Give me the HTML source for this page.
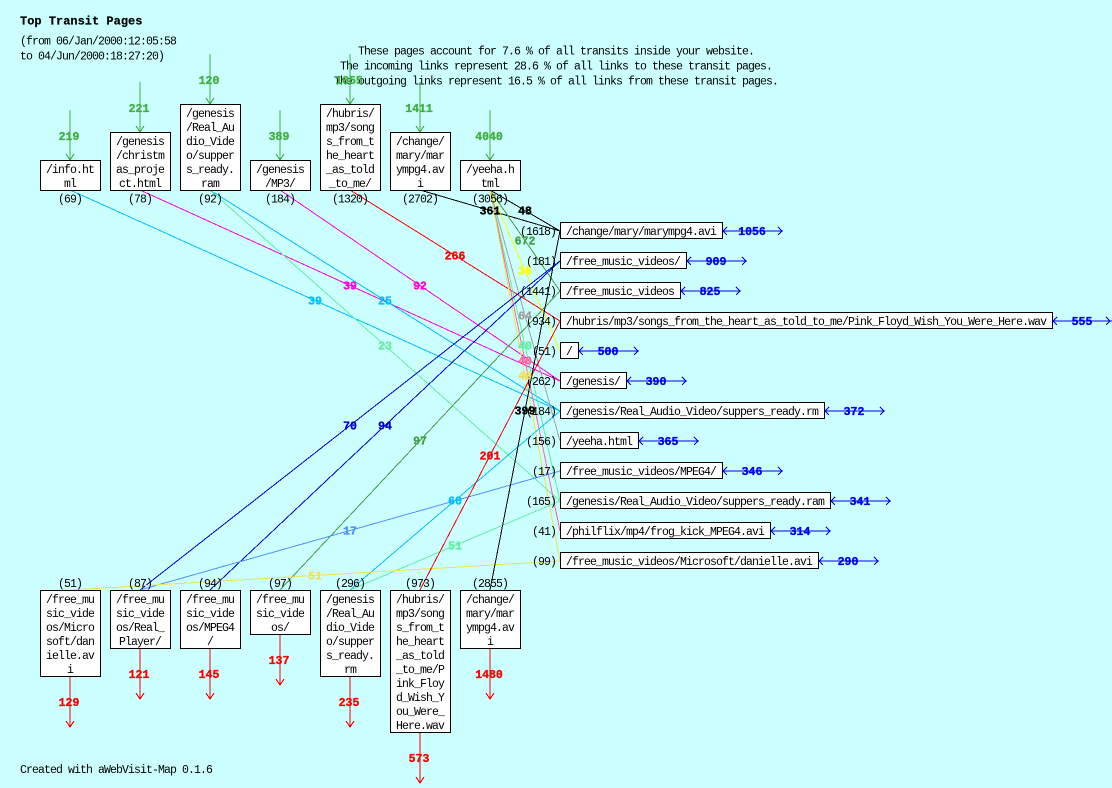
<!DOCTYPE html>
<html><head><meta charset="utf-8"><style>
html,body{margin:0;padding:0;background:#ccffff;}
svg{display:block;}
.t{font-family:"Liberation Mono",monospace;font-size:11.5px;letter-spacing:-0.9px;fill:#000;}
.b{font-family:"Liberation Mono",monospace;font-size:11.5px;font-weight:bold;stroke-width:0.35px;}
.ttl{font-family:"Liberation Mono",monospace;font-size:12px;font-weight:bold;fill:#000;stroke:#000;stroke-width:0.2px;}
</style></head><body>
<svg width="1112" height="788" viewBox="0 0 1112 788" xmlns="http://www.w3.org/2000/svg">
<rect width="1112" height="788" fill="#ccffff"/>
<text class="ttl" x="20" y="24.5">Top Transit Pages</text>
<text class="t" x="20" y="44.5">(from 06/Jan/2000:12:05:58</text>
<text class="t" x="20" y="59.5">to 04/Jun/2000:18:27:20)</text>
<text class="t" x="556" y="54.5" text-anchor="middle">These pages account for 7.6 % of all transits inside your website.</text>
<text class="t" x="556" y="69.5" text-anchor="middle">The incoming links represent 28.6 % of all links to these transit pages.</text>
<text class="t" x="556" y="84.5" text-anchor="middle">The outgoing links represent 16.5 % of all links from these transit pages.</text>
<text class="t" x="20" y="773">Created with aWebVisit-Map 0.1.6</text>

<g stroke-width="1" shape-rendering="crispEdges" fill="none">
<line x1="70" y1="190" x2="560" y2="411" stroke="#00c0ff"/>
<line x1="140" y1="190" x2="560" y2="381" stroke="#ff00e0"/>
<line x1="210" y1="190" x2="560" y2="411" stroke="#00c0ff"/>
<line x1="210" y1="190" x2="560" y2="501" stroke="#60f0a0"/>
<line x1="280" y1="190" x2="560" y2="381" stroke="#ff00e0"/>
<line x1="350" y1="190" x2="560" y2="321" stroke="#ff0000"/>
<line x1="420" y1="190" x2="560" y2="231" stroke="#000"/>
<line x1="490" y1="190" x2="560" y2="231" stroke="#000"/>
<line x1="490" y1="190" x2="560" y2="291" stroke="#40a040"/>
<line x1="490" y1="190" x2="560" y2="351" stroke="#ffff00"/>
<line x1="490" y1="190" x2="560" y2="441" stroke="#a0a0a0"/>
<line x1="490" y1="190" x2="560" y2="501" stroke="#60f0a0"/>
<line x1="490" y1="190" x2="560" y2="531" stroke="#ff60a0"/>
<line x1="490" y1="190" x2="560" y2="561" stroke="#f0e050"/>
<line x1="560" y1="261" x2="140" y2="590" stroke="#0000d0"/>
<line x1="560" y1="261" x2="210" y2="590" stroke="#0000d0"/>
<line x1="560" y1="291" x2="280" y2="590" stroke="#40a040"/>
<line x1="560" y1="471" x2="140" y2="590" stroke="#5090ff"/>
<line x1="560" y1="411" x2="350" y2="590" stroke="#00c0ff"/>
<line x1="560" y1="501" x2="350" y2="590" stroke="#60f0a0"/>
<line x1="560" y1="561" x2="70" y2="590" stroke="#f0e050"/>
<line x1="560" y1="321" x2="420" y2="590" stroke="#ff0000"/>
<line x1="560" y1="231" x2="490" y2="590" stroke="#000"/>
</g>

<!-- top green arrows -->
<g stroke="#40b040" fill="none" shape-rendering="crispEdges">
<path d="M70 110V160M66 154L70 160L74 154"/>
<path d="M140 82V132M136 126L140 132L144 126"/>
<path d="M210 54V104M206 98L210 104L214 98"/>
<path d="M280 110V160M276 154L280 160L284 154"/>
<path d="M350 54V104M346 98L350 104L354 98"/>
<path d="M420 82V132M416 126L420 132L424 126"/>
<path d="M490 110V160M486 154L490 160L494 154"/>
</g>
<g class="b" fill="#40b040" stroke="#40b040" text-anchor="middle">
<text x="69" y="140">219</text>
<text x="139" y="112">221</text>
<text x="209" y="84">120</text>
<text x="279" y="140">389</text>
<text x="349" y="84">1055</text>
<text x="419" y="112">1411</text>
<text x="489" y="140">4040</text>
</g>

<!-- top boxes -->
<g fill="#fff" stroke="#000" shape-rendering="crispEdges">
<rect x="40.5" y="160.5" width="60" height="30"/>
<rect x="110.5" y="132.5" width="60" height="58"/>
<rect x="180.5" y="104.5" width="60" height="86"/>
<rect x="250.5" y="160.5" width="60" height="30"/>
<rect x="320.5" y="104.5" width="60" height="86"/>
<rect x="390.5" y="132.5" width="60" height="58"/>
<rect x="460.5" y="160.5" width="60" height="30"/>
</g>
<g class="t" text-anchor="middle">
<text x="70" y="173">/info.ht</text><text x="70" y="187">ml</text>
<text x="140" y="145">/genesis</text><text x="140" y="159">/christm</text><text x="140" y="173">as_proje</text><text x="140" y="187">ct.html</text>
<text x="210" y="117">/genesis</text><text x="210" y="131">/Real_Au</text><text x="210" y="145">dio_Vide</text><text x="210" y="159">o/supper</text><text x="210" y="173">s_ready.</text><text x="210" y="187">ram</text>
<text x="280" y="173">/genesis</text><text x="280" y="187">/MP3/</text>
<text x="350" y="117">/hubris/</text><text x="350" y="131">mp3/song</text><text x="350" y="145">s_from_t</text><text x="350" y="159">he_heart</text><text x="350" y="173">_as_told</text><text x="350" y="187">_to_me/</text>
<text x="420" y="145">/change/</text><text x="420" y="159">mary/mar</text><text x="420" y="173">ympg4.av</text><text x="420" y="187">i</text>
<text x="490" y="173">/yeeha.h</text><text x="490" y="187">tml</text>
<text x="70" y="202.5">(69)</text>
<text x="140" y="202.5">(78)</text>
<text x="210" y="202.5">(92)</text>
<text x="280" y="202.5">(184)</text>
<text x="350" y="202.5">(1320)</text>
<text x="420" y="202.5">(2702)</text>
<text x="490" y="202.5">(3056)</text>
</g>

<!-- right boxes -->
<g fill="#fff" stroke="#000" shape-rendering="crispEdges">
<rect x="560.5" y="222.5" width="162" height="16"/>
<rect x="560.5" y="252.5" width="126" height="16"/>
<rect x="560.5" y="282.5" width="120" height="16"/>
<rect x="560.5" y="312.5" width="492" height="16"/>
<rect x="560.5" y="342.5" width="18" height="16"/>
<rect x="560.5" y="372.5" width="66" height="16"/>
<rect x="560.5" y="402.5" width="264" height="16"/>
<rect x="560.5" y="432.5" width="78" height="16"/>
<rect x="560.5" y="462.5" width="162" height="16"/>
<rect x="560.5" y="492.5" width="270" height="16"/>
<rect x="560.5" y="522.5" width="210" height="16"/>
<rect x="560.5" y="552.5" width="258" height="16"/>
</g>
<g class="t">
<text x="566" y="235">/change/mary/marympg4.avi</text>
<text x="566" y="265">/free_music_videos/</text>
<text x="566" y="295">/free_music_videos</text>
<text x="566" y="325">/hubris/mp3/songs_from_the_heart_as_told_to_me/Pink_Floyd_Wish_You_Were_Here.wav</text>
<text x="566" y="355">/</text>
<text x="566" y="385">/genesis/</text>
<text x="566" y="415">/genesis/Real_Audio_Video/suppers_ready.rm</text>
<text x="566" y="445">/yeeha.html</text>
<text x="566" y="475">/free_music_videos/MPEG4/</text>
<text x="566" y="505">/genesis/Real_Audio_Video/suppers_ready.ram</text>
<text x="566" y="535">/philflix/mp4/frog_kick_MPEG4.avi</text>
<text x="566" y="565">/free_music_videos/Microsoft/danielle.avi</text>
</g>
<g class="t" text-anchor="end">
<text x="556" y="235">(1618)</text>
<text x="556" y="265">(181)</text>
<text x="556" y="295">(1441)</text>
<text x="556" y="325">(934)</text>
<text x="556" y="355">(51)</text>
<text x="556" y="385">(262)</text>
<text x="556" y="415">(184)</text>
<text x="556" y="445">(156)</text>
<text x="556" y="475">(17)</text>
<text x="556" y="505">(165)</text>
<text x="556" y="535">(41)</text>
<text x="556" y="565">(99)</text>
</g>

<!-- right blue arrows -->
<g stroke="#0000f0" fill="none" shape-rendering="crispEdges">
<path d="M723 231H783M727 227L723 231L727 235M778 227L782 231L778 235"/>
<path d="M687 261H747M691 257L687 261L691 265M742 257L746 261L742 265"/>
<path d="M681 291H741M685 287L681 291L685 295M736 287L740 291L736 295"/>
<path d="M1053 321H1112M1057 317L1053 321L1057 325M1106 317L1110 321L1106 325"/>
<path d="M579 351H639M583 347L579 351L583 355M634 347L638 351L634 355"/>
<path d="M627 381H687M631 377L627 381L631 385M682 377L686 381L682 385"/>
<path d="M825 411H885M829 407L825 411L829 415M880 407L884 411L880 415"/>
<path d="M639 441H699M643 437L639 441L643 445M694 437L698 441L694 445"/>
<path d="M723 471H783M727 467L723 471L727 475M778 467L782 471L778 475"/>
<path d="M831 501H891M835 497L831 501L835 505M886 497L890 501L886 505"/>
<path d="M771 531H831M775 527L771 531L775 535M826 527L830 531L826 535"/>
<path d="M819 561H879M823 557L819 561L823 565M874 557L878 561L874 565"/>
</g>
<g class="b" fill="#0000f0" stroke="#0000f0" text-anchor="middle">
<text x="752" y="235">1056</text>
<text x="716" y="265">909</text>
<text x="710" y="295">825</text>
<text x="1082" y="325">555</text>
<text x="608" y="355">500</text>
<text x="656" y="385">390</text>
<text x="854" y="415">372</text>
<text x="668" y="445">365</text>
<text x="752" y="475">346</text>
<text x="860" y="505">341</text>
<text x="800" y="535">314</text>
<text x="848" y="565">290</text>
</g>

<!-- bottom boxes -->
<g fill="#fff" stroke="#000" shape-rendering="crispEdges">
<rect x="40.5" y="590.5" width="60" height="86"/>
<rect x="110.5" y="590.5" width="60" height="58"/>
<rect x="180.5" y="590.5" width="60" height="58"/>
<rect x="250.5" y="590.5" width="60" height="44"/>
<rect x="320.5" y="590.5" width="60" height="86"/>
<rect x="390.5" y="590.5" width="60" height="142"/>
<rect x="460.5" y="590.5" width="60" height="58"/>
</g>
<g class="t" text-anchor="middle">
<text x="70" y="587">(51)</text>
<text x="140" y="587">(87)</text>
<text x="210" y="587">(94)</text>
<text x="280" y="587">(97)</text>
<text x="350" y="587">(296)</text>
<text x="420" y="587">(973)</text>
<text x="490" y="587">(2855)</text>
<text x="70" y="603">/free_mu</text><text x="70" y="617">sic_vide</text><text x="70" y="631">os/Micro</text><text x="70" y="645">soft/dan</text><text x="70" y="659">ielle.av</text><text x="70" y="673">i</text>
<text x="140" y="603">/free_mu</text><text x="140" y="617">sic_vide</text><text x="140" y="631">os/Real_</text><text x="140" y="645">Player/</text>
<text x="210" y="603">/free_mu</text><text x="210" y="617">sic_vide</text><text x="210" y="631">os/MPEG4</text><text x="210" y="645">/</text>
<text x="280" y="603">/free_mu</text><text x="280" y="617">sic_vide</text><text x="280" y="631">os/</text>
<text x="350" y="603">/genesis</text><text x="350" y="617">/Real_Au</text><text x="350" y="631">dio_Vide</text><text x="350" y="645">o/supper</text><text x="350" y="659">s_ready.</text><text x="350" y="673">rm</text>
<text x="420" y="603">/hubris/</text><text x="420" y="617">mp3/song</text><text x="420" y="631">s_from_t</text><text x="420" y="645">he_heart</text><text x="420" y="659">_as_told</text><text x="420" y="673">_to_me/P</text><text x="420" y="687">ink_Floy</text><text x="420" y="701">d_Wish_Y</text><text x="420" y="715">ou_Were_</text><text x="420" y="729">Here.wav</text>
<text x="490" y="603">/change/</text><text x="490" y="617">mary/mar</text><text x="490" y="631">ympg4.av</text><text x="490" y="645">i</text>
</g>

<!-- bottom red arrows -->
<g stroke="#ff0000" fill="none" shape-rendering="crispEdges">
<path d="M70 677V727M66 721L70 727L74 721"/>
<path d="M140 649V699M136 693L140 699L144 693"/>
<path d="M210 649V699M206 693L210 699L214 693"/>
<path d="M280 635V685M276 679L280 685L284 679"/>
<path d="M350 677V727M346 721L350 727L354 721"/>
<path d="M420 733V783M416 777L420 783L424 777"/>
<path d="M490 649V699M486 693L490 699L494 693"/>
</g>
<g class="b" fill="#ff0000" stroke="#ff0000" text-anchor="middle">
<text x="69" y="706">129</text>
<text x="139" y="678">121</text>
<text x="209" y="678">145</text>
<text x="279" y="664">137</text>
<text x="349" y="706">235</text>
<text x="419" y="762">573</text>
<text x="489" y="678">1480</text>
</g>

<!-- connector labels -->
<g class="b" text-anchor="middle">
<text x="315" y="304.5" fill="#00c0ff" stroke="#00c0ff">39</text>
<text x="350" y="289.5" fill="#ff00e0" stroke="#ff00e0">39</text>
<text x="385" y="304.5" fill="#00c0ff" stroke="#00c0ff">25</text>
<text x="385" y="349.5" fill="#60f0a0" stroke="#60f0a0">23</text>
<text x="420" y="289.5" fill="#ff00e0" stroke="#ff00e0">92</text>
<text x="455" y="259.5" fill="#ff0000" stroke="#ff0000">266</text>
<text x="490" y="214.5" fill="#000" stroke="#000">361</text>
<text x="525" y="214.5" fill="#000" stroke="#000">48</text>
<text x="525" y="244.5" fill="#40a040" stroke="#40a040">672</text>
<text x="525" y="274.5" fill="#ffff00" stroke="#ffff00">36</text>
<text x="525" y="319.5" fill="#a0a0a0" stroke="#a0a0a0">64</text>
<text x="525" y="349.5" fill="#60f0a0" stroke="#60f0a0">40</text>
<text x="525" y="364.5" fill="#ff60a0" stroke="#ff60a0">40</text>
<text x="525" y="379.5" fill="#f0e060" stroke="#f0e060">40</text>
<text x="350" y="429.5" fill="#0000d0" stroke="#0000d0">70</text>
<text x="385" y="429.5" fill="#0000d0" stroke="#0000d0">94</text>
<text x="420" y="444.5" fill="#40a040" stroke="#40a040">97</text>
<text x="350" y="534.5" fill="#5090ff" stroke="#5090ff">17</text>
<text x="455" y="504.5" fill="#00c0ff" stroke="#00c0ff">60</text>
<text x="455" y="549.5" fill="#60f0a0" stroke="#60f0a0">51</text>
<text x="315" y="579.5" fill="#f0e060" stroke="#f0e060">51</text>
<text x="490" y="459.5" fill="#ff0000" stroke="#ff0000">201</text>
<text x="525" y="414.5" fill="#000" stroke="#000">399</text>
</g>
</svg>
</body></html>
